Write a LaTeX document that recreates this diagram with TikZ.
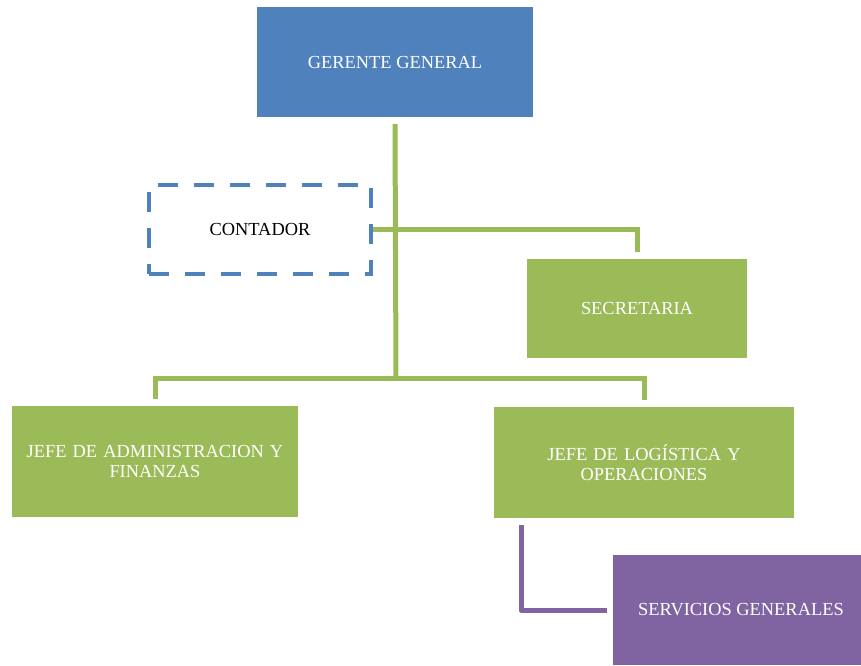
\documentclass[tikz,border=0pt]{standalone}
\usepackage{fontspec}
\setmainfont{Liberation Serif}
\definecolor{cblue}{HTML}{4F81BD}
\definecolor{cgreen}{HTML}{9BBB59}
\definecolor{cpurple}{HTML}{8064A2}
\begin{document}
\begin{tikzpicture}[x=1pt,y=1pt,
  box/.style={anchor=north west,inner sep=0pt,outer sep=0pt,align=center,
    font=\fontsize{18.4}{20.5}\selectfont,text=white},
  conn/.style={line width=5pt,cgreen},
  pconn/.style={line width=5pt,cpurple,line join=round}]
\useasboundingbox (0,0) rectangle (861,-665);
\node[box,fill=cblue,minimum width=276,minimum height=110] (ger) at (257,-7) {GERENTE GENERAL};
\node[box,draw=cblue,line width=4pt,dash pattern=on 20pt off 16pt,text=black,minimum width=222,minimum height=89] (con) at (149,-185) {CONTADOR};
\node[box,fill=cgreen,minimum width=220,minimum height=99] (sec) at (527,-259) {SECRETARIA};
\node[box,fill=cgreen,minimum width=286,minimum height=111,text width=275] (adm) at (12,-406) {JEFE DE ADMINISTRACION Y\\FINANZAS};
\node[box,fill=cgreen,minimum width=300,minimum height=111,text width=275] (log) at (494,-407) {JEFE DE LOGÍSTICA Y\\OPERACIONES};
\node[box,fill=cpurple,minimum width=248,minimum height=110] (ser) at (613,-555) {\hspace*{8pt}SERVICIOS GENERALES};
\coordinate (j) at (396,-378);
\draw[conn] ([yshift=-7]ger.south) -- (j);
\draw[conn] ([xshift=2]con.east) -| ([yshift=7]sec.north);
\draw[conn] (j) -| ([yshift=7]adm.north);
\draw[conn] (j) -| ([yshift=7]log.north);
\draw[pconn] ([xshift=27,yshift=-7]log.south west) |- ([xshift=-6]ser.west);
\end{tikzpicture}
\end{document}
